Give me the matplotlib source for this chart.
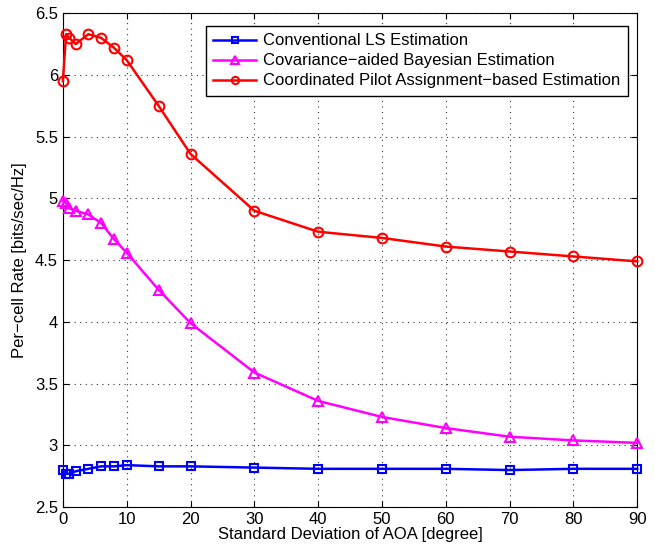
import matplotlib
matplotlib.use("Agg")
from matplotlib import pyplot as plt

plt.rcParams['font.family'] = ['Liberation Sans', 'DejaVu Sans']

x = [0, 0.5, 1, 2, 4, 6, 8, 10, 15, 20, 30, 40, 50, 60, 70, 80, 90]

ls_rate = [2.80, 2.77, 2.77, 2.79, 2.81, 2.83, 2.83, 2.84, 2.83, 2.83,
           2.82, 2.81, 2.81, 2.81, 2.80, 2.81, 2.81]
bayes_rate = [4.98, 4.96, 4.92, 4.90, 4.87, 4.80, 4.67, 4.56, 4.26, 3.99,
              3.59, 3.36, 3.23, 3.14, 3.07, 3.04, 3.02]
coord_rate = [5.95, 6.33, 6.30, 6.25, 6.33, 6.30, 6.22, 6.12, 5.75, 5.36,
              4.90, 4.73, 4.68, 4.61, 4.57, 4.53, 4.49]

labels = ['Conventional LS Estimation',
          'Covariance\u2212aided Bayesian Estimation',
          'Coordinated Pilot Assignment\u2212based Estimation']

fig = plt.figure(figsize=(6.55, 5.5), dpi=100)
ax = fig.add_axes([0.096, 0.078, 0.877, 0.898])

style = dict(lw=1.8, mfc='none', mew=1.5, clip_on=False, zorder=3)
ax.plot(x, ls_rate, '-s', color='#0000ff', ms=6, label=labels[0], **style)
ax.plot(x, bayes_rate, '-^', color='#ff00ff', ms=7, label=labels[1], **style)
ax.plot(x, coord_rate, '-o', color='#ff0000', ms=7, label=labels[2], **style)

ax.set_xlim(0, 90)
ax.set_ylim(2.5, 6.5)
ax.set_xticks(range(0, 91, 10))
ax.set_yticks([2.5, 3, 3.5, 4, 4.5, 5, 5.5, 6, 6.5])
ax.set_yticklabels(['2.5', '3', '3.5', '4', '4.5', '5', '5.5', '6', '6.5'])
ax.grid(True, linestyle=(0, (1, 4)), color='#333333', lw=0.8)
ax.tick_params(direction='in', labelsize=12, top=True, right=True, length=4)
for s in ax.spines.values():
    s.set_linewidth(0.8)

ax.set_xlabel('Standard Deviation of AOA [degree]', fontsize=12, labelpad=0)
ax.set_ylabel('Per\u2212cell Rate [bits/sec/Hz]', fontsize=12, labelpad=6)

leg = ax.legend(loc='upper right', bbox_to_anchor=(0.998, 0.991), fontsize=12,
                fancybox=False, edgecolor='black', framealpha=1,
                markerscale=0.75, handlelength=2.6, borderpad=0.45,
                labelspacing=0.3, handletextpad=0.4)
leg.get_frame().set_linewidth(1.0)

fig.savefig('out.png', dpi=100)
